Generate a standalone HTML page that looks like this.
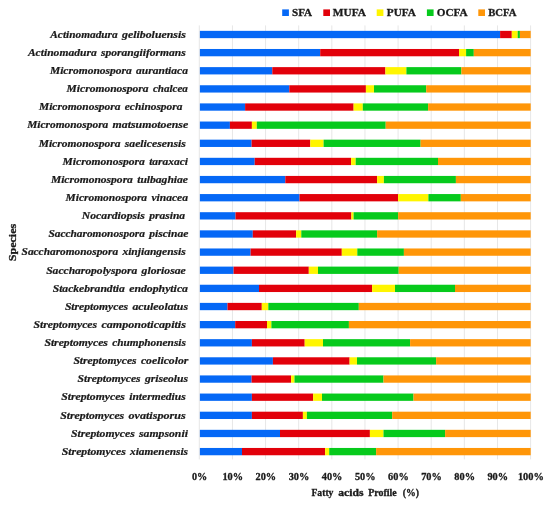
<!DOCTYPE html><html><head><meta charset="utf-8"><style>html,body{margin:0;padding:0;background:#fff}svg{display:block;will-change:transform}text{font-family:"Liberation Serif",serif;fill:#1a1a1a;stroke:#1a1a1a;stroke-width:0.3px}</style></head><body>
<svg width="550" height="505" viewBox="0 0 550 505">
<rect width="550" height="505" fill="#fff"/>
<rect x="198.80" y="25.4" width="1" height="434" fill="#e7e7e7"/>
<rect x="231.93" y="25.4" width="1" height="434" fill="#e7e7e7"/>
<rect x="265.06" y="25.4" width="1" height="434" fill="#e7e7e7"/>
<rect x="298.19" y="25.4" width="1" height="434" fill="#e7e7e7"/>
<rect x="331.32" y="25.4" width="1" height="434" fill="#e7e7e7"/>
<rect x="364.45" y="25.4" width="1" height="434" fill="#e7e7e7"/>
<rect x="397.58" y="25.4" width="1" height="434" fill="#e7e7e7"/>
<rect x="430.71" y="25.4" width="1" height="434" fill="#e7e7e7"/>
<rect x="463.84" y="25.4" width="1" height="434" fill="#e7e7e7"/>
<rect x="496.97" y="25.4" width="1" height="434" fill="#e7e7e7"/>
<rect x="530.10" y="25.4" width="1" height="434" fill="#e7e7e7"/>
<rect x="199.90" y="30.85" width="300.20" height="7.3" fill="#0568f6"/>
<rect x="500.10" y="30.85" width="11.70" height="7.3" fill="#e2000a"/>
<rect x="511.80" y="30.85" width="5.90" height="7.3" fill="#fff500"/>
<rect x="517.70" y="30.85" width="2.20" height="7.3" fill="#06ca1c"/>
<rect x="519.90" y="30.85" width="10.80" height="7.3" fill="#ff9608"/>
<rect x="199.90" y="48.98" width="120.30" height="7.3" fill="#0568f6"/>
<rect x="320.20" y="48.98" width="138.80" height="7.3" fill="#e2000a"/>
<rect x="459.00" y="48.98" width="7.10" height="7.3" fill="#fff500"/>
<rect x="466.10" y="48.98" width="7.70" height="7.3" fill="#06ca1c"/>
<rect x="473.80" y="48.98" width="56.90" height="7.3" fill="#ff9608"/>
<rect x="199.90" y="67.12" width="72.40" height="7.3" fill="#0568f6"/>
<rect x="272.30" y="67.12" width="113.10" height="7.3" fill="#e2000a"/>
<rect x="385.40" y="67.12" width="21.00" height="7.3" fill="#fff500"/>
<rect x="406.40" y="67.12" width="55.00" height="7.3" fill="#06ca1c"/>
<rect x="461.40" y="67.12" width="69.30" height="7.3" fill="#ff9608"/>
<rect x="199.90" y="85.25" width="89.40" height="7.3" fill="#0568f6"/>
<rect x="289.30" y="85.25" width="76.60" height="7.3" fill="#e2000a"/>
<rect x="365.90" y="85.25" width="8.10" height="7.3" fill="#fff500"/>
<rect x="374.00" y="85.25" width="52.20" height="7.3" fill="#06ca1c"/>
<rect x="426.20" y="85.25" width="104.50" height="7.3" fill="#ff9608"/>
<rect x="199.90" y="103.39" width="45.20" height="7.3" fill="#0568f6"/>
<rect x="245.10" y="103.39" width="108.50" height="7.3" fill="#e2000a"/>
<rect x="353.60" y="103.39" width="9.20" height="7.3" fill="#fff500"/>
<rect x="362.80" y="103.39" width="65.30" height="7.3" fill="#06ca1c"/>
<rect x="428.10" y="103.39" width="102.60" height="7.3" fill="#ff9608"/>
<rect x="199.90" y="121.53" width="30.00" height="7.3" fill="#0568f6"/>
<rect x="229.90" y="121.53" width="22.00" height="7.3" fill="#e2000a"/>
<rect x="251.90" y="121.53" width="4.90" height="7.3" fill="#fff500"/>
<rect x="256.80" y="121.53" width="128.90" height="7.3" fill="#06ca1c"/>
<rect x="385.70" y="121.53" width="145.00" height="7.3" fill="#ff9608"/>
<rect x="199.90" y="139.66" width="51.70" height="7.3" fill="#0568f6"/>
<rect x="251.60" y="139.66" width="58.70" height="7.3" fill="#e2000a"/>
<rect x="310.30" y="139.66" width="13.30" height="7.3" fill="#fff500"/>
<rect x="323.60" y="139.66" width="97.00" height="7.3" fill="#06ca1c"/>
<rect x="420.60" y="139.66" width="110.10" height="7.3" fill="#ff9608"/>
<rect x="199.90" y="157.80" width="54.80" height="7.3" fill="#0568f6"/>
<rect x="254.70" y="157.80" width="96.40" height="7.3" fill="#e2000a"/>
<rect x="351.10" y="157.80" width="4.60" height="7.3" fill="#fff500"/>
<rect x="355.70" y="157.80" width="82.30" height="7.3" fill="#06ca1c"/>
<rect x="438.00" y="157.80" width="92.70" height="7.3" fill="#ff9608"/>
<rect x="199.90" y="175.93" width="85.40" height="7.3" fill="#0568f6"/>
<rect x="285.30" y="175.93" width="91.80" height="7.3" fill="#e2000a"/>
<rect x="377.10" y="175.93" width="6.80" height="7.3" fill="#fff500"/>
<rect x="383.90" y="175.93" width="72.00" height="7.3" fill="#06ca1c"/>
<rect x="455.90" y="175.93" width="74.80" height="7.3" fill="#ff9608"/>
<rect x="199.90" y="194.06" width="99.60" height="7.3" fill="#0568f6"/>
<rect x="299.50" y="194.06" width="98.60" height="7.3" fill="#e2000a"/>
<rect x="398.10" y="194.06" width="30.30" height="7.3" fill="#fff500"/>
<rect x="428.40" y="194.06" width="32.40" height="7.3" fill="#06ca1c"/>
<rect x="460.80" y="194.06" width="69.90" height="7.3" fill="#ff9608"/>
<rect x="199.90" y="212.20" width="35.60" height="7.3" fill="#0568f6"/>
<rect x="235.50" y="212.20" width="115.90" height="7.3" fill="#e2000a"/>
<rect x="351.40" y="212.20" width="2.20" height="7.3" fill="#fff500"/>
<rect x="353.60" y="212.20" width="44.50" height="7.3" fill="#06ca1c"/>
<rect x="398.10" y="212.20" width="132.60" height="7.3" fill="#ff9608"/>
<rect x="199.90" y="230.34" width="52.90" height="7.3" fill="#0568f6"/>
<rect x="252.80" y="230.34" width="43.30" height="7.3" fill="#e2000a"/>
<rect x="296.10" y="230.34" width="5.20" height="7.3" fill="#fff500"/>
<rect x="301.30" y="230.34" width="75.80" height="7.3" fill="#06ca1c"/>
<rect x="377.10" y="230.34" width="153.60" height="7.3" fill="#ff9608"/>
<rect x="199.90" y="248.47" width="50.70" height="7.3" fill="#0568f6"/>
<rect x="250.60" y="248.47" width="91.20" height="7.3" fill="#e2000a"/>
<rect x="341.80" y="248.47" width="15.50" height="7.3" fill="#fff500"/>
<rect x="357.30" y="248.47" width="46.60" height="7.3" fill="#06ca1c"/>
<rect x="403.90" y="248.47" width="126.80" height="7.3" fill="#ff9608"/>
<rect x="199.90" y="266.61" width="33.70" height="7.3" fill="#0568f6"/>
<rect x="233.60" y="266.61" width="75.20" height="7.3" fill="#e2000a"/>
<rect x="308.80" y="266.61" width="9.20" height="7.3" fill="#fff500"/>
<rect x="318.00" y="266.61" width="80.70" height="7.3" fill="#06ca1c"/>
<rect x="398.70" y="266.61" width="132.00" height="7.3" fill="#ff9608"/>
<rect x="199.90" y="284.74" width="59.10" height="7.3" fill="#0568f6"/>
<rect x="259.00" y="284.74" width="113.10" height="7.3" fill="#e2000a"/>
<rect x="372.10" y="284.74" width="22.90" height="7.3" fill="#fff500"/>
<rect x="395.00" y="284.74" width="60.00" height="7.3" fill="#06ca1c"/>
<rect x="455.00" y="284.74" width="75.70" height="7.3" fill="#ff9608"/>
<rect x="199.90" y="302.88" width="27.60" height="7.3" fill="#0568f6"/>
<rect x="227.50" y="302.88" width="34.30" height="7.3" fill="#e2000a"/>
<rect x="261.80" y="302.88" width="6.50" height="7.3" fill="#fff500"/>
<rect x="268.30" y="302.88" width="90.50" height="7.3" fill="#06ca1c"/>
<rect x="358.80" y="302.88" width="171.90" height="7.3" fill="#ff9608"/>
<rect x="199.90" y="321.01" width="35.30" height="7.3" fill="#0568f6"/>
<rect x="235.20" y="321.01" width="31.80" height="7.3" fill="#e2000a"/>
<rect x="267.00" y="321.01" width="4.40" height="7.3" fill="#fff500"/>
<rect x="271.40" y="321.01" width="77.50" height="7.3" fill="#06ca1c"/>
<rect x="348.90" y="321.01" width="181.80" height="7.3" fill="#ff9608"/>
<rect x="199.90" y="339.15" width="52.00" height="7.3" fill="#0568f6"/>
<rect x="251.90" y="339.15" width="52.80" height="7.3" fill="#e2000a"/>
<rect x="304.70" y="339.15" width="18.30" height="7.3" fill="#fff500"/>
<rect x="323.00" y="339.15" width="87.10" height="7.3" fill="#06ca1c"/>
<rect x="410.10" y="339.15" width="120.60" height="7.3" fill="#ff9608"/>
<rect x="199.90" y="357.28" width="73.00" height="7.3" fill="#0568f6"/>
<rect x="272.90" y="357.28" width="76.70" height="7.3" fill="#e2000a"/>
<rect x="349.60" y="357.28" width="7.40" height="7.3" fill="#fff500"/>
<rect x="357.00" y="357.28" width="79.10" height="7.3" fill="#06ca1c"/>
<rect x="436.10" y="357.28" width="94.60" height="7.3" fill="#ff9608"/>
<rect x="199.90" y="375.42" width="51.70" height="7.3" fill="#0568f6"/>
<rect x="251.60" y="375.42" width="39.50" height="7.3" fill="#e2000a"/>
<rect x="291.10" y="375.42" width="3.40" height="7.3" fill="#fff500"/>
<rect x="294.50" y="375.42" width="89.00" height="7.3" fill="#06ca1c"/>
<rect x="383.50" y="375.42" width="147.20" height="7.3" fill="#ff9608"/>
<rect x="199.90" y="393.55" width="52.00" height="7.3" fill="#0568f6"/>
<rect x="251.90" y="393.55" width="61.20" height="7.3" fill="#e2000a"/>
<rect x="313.10" y="393.55" width="8.90" height="7.3" fill="#fff500"/>
<rect x="322.00" y="393.55" width="91.50" height="7.3" fill="#06ca1c"/>
<rect x="413.50" y="393.55" width="117.20" height="7.3" fill="#ff9608"/>
<rect x="199.90" y="411.69" width="52.00" height="7.3" fill="#0568f6"/>
<rect x="251.90" y="411.69" width="51.00" height="7.3" fill="#e2000a"/>
<rect x="302.90" y="411.69" width="4.00" height="7.3" fill="#fff500"/>
<rect x="306.90" y="411.69" width="85.30" height="7.3" fill="#06ca1c"/>
<rect x="392.20" y="411.69" width="138.50" height="7.3" fill="#ff9608"/>
<rect x="199.90" y="429.82" width="80.10" height="7.3" fill="#0568f6"/>
<rect x="280.00" y="429.82" width="89.90" height="7.3" fill="#e2000a"/>
<rect x="369.90" y="429.82" width="13.60" height="7.3" fill="#fff500"/>
<rect x="383.50" y="429.82" width="61.60" height="7.3" fill="#06ca1c"/>
<rect x="445.10" y="429.82" width="85.60" height="7.3" fill="#ff9608"/>
<rect x="199.90" y="447.96" width="42.10" height="7.3" fill="#0568f6"/>
<rect x="242.00" y="447.96" width="83.10" height="7.3" fill="#e2000a"/>
<rect x="325.10" y="447.96" width="4.10" height="7.3" fill="#fff500"/>
<rect x="329.20" y="447.96" width="46.90" height="7.3" fill="#06ca1c"/>
<rect x="376.10" y="447.96" width="154.60" height="7.3" fill="#ff9608"/>
<text x="50.3" y="37.75" font-size="10.5" font-style="italic" font-weight="bold" style="stroke-width:0.22px" lengthAdjust="spacingAndGlyphs" textLength="67.4">Actinomadura</text>
<text x="122.0" y="37.75" font-size="10.5" font-style="italic" font-weight="bold" style="stroke-width:0.22px" lengthAdjust="spacingAndGlyphs" textLength="63.8">geliboluensis</text>
<text x="27.9" y="55.88" font-size="10.5" font-style="italic" font-weight="bold" style="stroke-width:0.22px" lengthAdjust="spacingAndGlyphs" textLength="68.8">Actinomadura</text>
<text x="101.0" y="55.88" font-size="10.5" font-style="italic" font-weight="bold" style="stroke-width:0.22px" lengthAdjust="spacingAndGlyphs" textLength="84.8">sporangiiformans</text>
<text x="49.9" y="74.02" font-size="10.5" font-style="italic" font-weight="bold" style="stroke-width:0.22px" lengthAdjust="spacingAndGlyphs" textLength="81.9">Micromonospora</text>
<text x="136.1" y="74.02" font-size="10.5" font-style="italic" font-weight="bold" style="stroke-width:0.22px" lengthAdjust="spacingAndGlyphs" textLength="51.8">aurantiaca</text>
<text x="66.6" y="92.16" font-size="10.5" font-style="italic" font-weight="bold" style="stroke-width:0.22px" lengthAdjust="spacingAndGlyphs" textLength="82.0">Micromonospora</text>
<text x="152.9" y="92.16" font-size="10.5" font-style="italic" font-weight="bold" style="stroke-width:0.22px" lengthAdjust="spacingAndGlyphs" textLength="35.0">chalcea</text>
<text x="39.0" y="110.29" font-size="10.5" font-style="italic" font-weight="bold" style="stroke-width:0.22px" lengthAdjust="spacingAndGlyphs" textLength="81.5">Micromonospora</text>
<text x="124.8" y="110.29" font-size="10.5" font-style="italic" font-weight="bold" style="stroke-width:0.22px" lengthAdjust="spacingAndGlyphs" textLength="57.6">echinospora</text>
<text x="27.2" y="128.43" font-size="10.5" font-style="italic" font-weight="bold" style="stroke-width:0.22px" lengthAdjust="spacingAndGlyphs" textLength="81.1">Micromonospora</text>
<text x="112.6" y="128.43" font-size="10.5" font-style="italic" font-weight="bold" style="stroke-width:0.22px" lengthAdjust="spacingAndGlyphs" textLength="75.6">matsumotoense</text>
<text x="38.7" y="146.56" font-size="10.5" font-style="italic" font-weight="bold" style="stroke-width:0.22px" lengthAdjust="spacingAndGlyphs" textLength="81.8">Micromonospora</text>
<text x="124.8" y="146.56" font-size="10.5" font-style="italic" font-weight="bold" style="stroke-width:0.22px" lengthAdjust="spacingAndGlyphs" textLength="61.0">saelicesensis</text>
<text x="62.5" y="164.70" font-size="10.5" font-style="italic" font-weight="bold" style="stroke-width:0.22px" lengthAdjust="spacingAndGlyphs" textLength="82.4">Micromonospora</text>
<text x="149.2" y="164.70" font-size="10.5" font-style="italic" font-weight="bold" style="stroke-width:0.22px" lengthAdjust="spacingAndGlyphs" textLength="38.8">taraxaci</text>
<text x="50.9" y="182.83" font-size="10.5" font-style="italic" font-weight="bold" style="stroke-width:0.22px" lengthAdjust="spacingAndGlyphs" textLength="82.0">Micromonospora</text>
<text x="137.2" y="182.83" font-size="10.5" font-style="italic" font-weight="bold" style="stroke-width:0.22px" lengthAdjust="spacingAndGlyphs" textLength="50.8">tulbaghiae</text>
<text x="65.5" y="200.97" font-size="10.5" font-style="italic" font-weight="bold" style="stroke-width:0.22px" lengthAdjust="spacingAndGlyphs" textLength="81.6">Micromonospora</text>
<text x="151.4" y="200.97" font-size="10.5" font-style="italic" font-weight="bold" style="stroke-width:0.22px" lengthAdjust="spacingAndGlyphs" textLength="36.6">vinacea</text>
<text x="81.8" y="219.10" font-size="10.5" font-style="italic" font-weight="bold" style="stroke-width:0.22px" lengthAdjust="spacingAndGlyphs" textLength="63.1">Nocardiopsis</text>
<text x="149.2" y="219.10" font-size="10.5" font-style="italic" font-weight="bold" style="stroke-width:0.22px" lengthAdjust="spacingAndGlyphs" textLength="35.9">prasina</text>
<text x="48.5" y="237.24" font-size="10.5" font-style="italic" font-weight="bold" style="stroke-width:0.22px" lengthAdjust="spacingAndGlyphs" textLength="96.4">Saccharomonospora</text>
<text x="149.2" y="237.24" font-size="10.5" font-style="italic" font-weight="bold" style="stroke-width:0.22px" lengthAdjust="spacingAndGlyphs" textLength="39.1">piscinae</text>
<text x="21.6" y="255.37" font-size="10.5" font-style="italic" font-weight="bold" style="stroke-width:0.22px" lengthAdjust="spacingAndGlyphs" textLength="96.5">Saccharomonospora</text>
<text x="122.4" y="255.37" font-size="10.5" font-style="italic" font-weight="bold" style="stroke-width:0.22px" lengthAdjust="spacingAndGlyphs" textLength="63.4">xinjiangensis</text>
<text x="46.2" y="273.50" font-size="10.5" font-style="italic" font-weight="bold" style="stroke-width:0.22px" lengthAdjust="spacingAndGlyphs" textLength="91.1">Saccharopolyspora</text>
<text x="141.6" y="273.50" font-size="10.5" font-style="italic" font-weight="bold" style="stroke-width:0.22px" lengthAdjust="spacingAndGlyphs" textLength="44.1">gloriosae</text>
<text x="52.7" y="291.64" font-size="10.5" font-style="italic" font-weight="bold" style="stroke-width:0.22px" lengthAdjust="spacingAndGlyphs" textLength="72.2">Stackebrandtia</text>
<text x="129.2" y="291.64" font-size="10.5" font-style="italic" font-weight="bold" style="stroke-width:0.22px" lengthAdjust="spacingAndGlyphs" textLength="58.8">endophytica</text>
<text x="64.9" y="309.78" font-size="10.5" font-style="italic" font-weight="bold" style="stroke-width:0.22px" lengthAdjust="spacingAndGlyphs" textLength="63.2">Streptomyces</text>
<text x="132.4" y="309.78" font-size="10.5" font-style="italic" font-weight="bold" style="stroke-width:0.22px" lengthAdjust="spacingAndGlyphs" textLength="55.6">aculeolatus</text>
<text x="33.5" y="327.91" font-size="10.5" font-style="italic" font-weight="bold" style="stroke-width:0.22px" lengthAdjust="spacingAndGlyphs" textLength="63.6">Streptomyces</text>
<text x="101.4" y="327.91" font-size="10.5" font-style="italic" font-weight="bold" style="stroke-width:0.22px" lengthAdjust="spacingAndGlyphs" textLength="84.5">camponoticapitis</text>
<text x="44.4" y="346.05" font-size="10.5" font-style="italic" font-weight="bold" style="stroke-width:0.22px" lengthAdjust="spacingAndGlyphs" textLength="63.5">Streptomyces</text>
<text x="112.2" y="346.05" font-size="10.5" font-style="italic" font-weight="bold" style="stroke-width:0.22px" lengthAdjust="spacingAndGlyphs" textLength="73.7">chumphonensis</text>
<text x="73.4" y="364.18" font-size="10.5" font-style="italic" font-weight="bold" style="stroke-width:0.22px" lengthAdjust="spacingAndGlyphs" textLength="63.2">Streptomyces</text>
<text x="140.9" y="364.18" font-size="10.5" font-style="italic" font-weight="bold" style="stroke-width:0.22px" lengthAdjust="spacingAndGlyphs" textLength="47.5">coelicolor</text>
<text x="77.6" y="382.32" font-size="10.5" font-style="italic" font-weight="bold" style="stroke-width:0.22px" lengthAdjust="spacingAndGlyphs" textLength="63.0">Streptomyces</text>
<text x="144.9" y="382.32" font-size="10.5" font-style="italic" font-weight="bold" style="stroke-width:0.22px" lengthAdjust="spacingAndGlyphs" textLength="43.1">griseolus</text>
<text x="61.2" y="400.45" font-size="10.5" font-style="italic" font-weight="bold" style="stroke-width:0.22px" lengthAdjust="spacingAndGlyphs" textLength="63.7">Streptomyces</text>
<text x="129.2" y="400.45" font-size="10.5" font-style="italic" font-weight="bold" style="stroke-width:0.22px" lengthAdjust="spacingAndGlyphs" textLength="56.5">intermedius</text>
<text x="60.2" y="418.59" font-size="10.5" font-style="italic" font-weight="bold" style="stroke-width:0.22px" lengthAdjust="spacingAndGlyphs" textLength="64.0">Streptomyces</text>
<text x="128.5" y="418.59" font-size="10.5" font-style="italic" font-weight="bold" style="stroke-width:0.22px" lengthAdjust="spacingAndGlyphs" textLength="57.2">ovatisporus</text>
<text x="71.0" y="436.72" font-size="10.5" font-style="italic" font-weight="bold" style="stroke-width:0.22px" lengthAdjust="spacingAndGlyphs" textLength="63.7">Streptomyces</text>
<text x="139.0" y="436.72" font-size="10.5" font-style="italic" font-weight="bold" style="stroke-width:0.22px" lengthAdjust="spacingAndGlyphs" textLength="48.9">sampsonii</text>
<text x="61.8" y="454.86" font-size="10.5" font-style="italic" font-weight="bold" style="stroke-width:0.22px" lengthAdjust="spacingAndGlyphs" textLength="63.9">Streptomyces</text>
<text x="130.0" y="454.86" font-size="10.5" font-style="italic" font-weight="bold" style="stroke-width:0.22px" lengthAdjust="spacingAndGlyphs" textLength="58.0">xiamenensis</text>
<text x="192.00" y="479.7" font-size="10.2" font-weight="bold" textLength="15.2" lengthAdjust="spacingAndGlyphs">0%</text>
<text x="222.43" y="479.7" font-size="10.2" font-weight="bold" textLength="20.6" lengthAdjust="spacingAndGlyphs">10%</text>
<text x="255.56" y="479.7" font-size="10.2" font-weight="bold" textLength="20.6" lengthAdjust="spacingAndGlyphs">20%</text>
<text x="288.69" y="479.7" font-size="10.2" font-weight="bold" textLength="20.6" lengthAdjust="spacingAndGlyphs">30%</text>
<text x="321.82" y="479.7" font-size="10.2" font-weight="bold" textLength="20.6" lengthAdjust="spacingAndGlyphs">40%</text>
<text x="354.95" y="479.7" font-size="10.2" font-weight="bold" textLength="20.6" lengthAdjust="spacingAndGlyphs">50%</text>
<text x="388.08" y="479.7" font-size="10.2" font-weight="bold" textLength="20.6" lengthAdjust="spacingAndGlyphs">60%</text>
<text x="421.21" y="479.7" font-size="10.2" font-weight="bold" textLength="20.6" lengthAdjust="spacingAndGlyphs">70%</text>
<text x="454.34" y="479.7" font-size="10.2" font-weight="bold" textLength="20.6" lengthAdjust="spacingAndGlyphs">80%</text>
<text x="487.47" y="479.7" font-size="10.2" font-weight="bold" textLength="20.6" lengthAdjust="spacingAndGlyphs">90%</text>
<text x="517.90" y="479.7" font-size="10.2" font-weight="bold" textLength="26.0" lengthAdjust="spacingAndGlyphs">100%</text>
<text x="311.5" y="496.3" font-size="10.1" font-weight="bold" textLength="21.9" lengthAdjust="spacingAndGlyphs">Fatty</text>
<text x="338.2" y="496.3" font-size="10.1" font-weight="bold" textLength="25.3" lengthAdjust="spacingAndGlyphs">acids</text>
<text x="368.3" y="496.3" font-size="10.1" font-weight="bold" textLength="28.4" lengthAdjust="spacingAndGlyphs">Profile</text>
<text x="402.8" y="496.3" font-size="10.1" font-weight="bold" textLength="16.3" lengthAdjust="spacingAndGlyphs">(%)</text>
<text transform="translate(16.2,261.2) rotate(-90)" font-size="10.8" font-weight="bold" textLength="37.4" lengthAdjust="spacingAndGlyphs">Species</text>
<rect x="282.2" y="9.4" width="6.7" height="6.6" fill="#0568f6"/>
<text x="292.0" y="16.1" font-size="11.4" font-weight="bold" textLength="20.1" lengthAdjust="spacingAndGlyphs">SFA</text>
<rect x="323.3" y="9.4" width="6.7" height="6.6" fill="#e2000a"/>
<text x="332.8" y="16.1" font-size="11.4" font-weight="bold" textLength="33.2" lengthAdjust="spacingAndGlyphs">MUFA</text>
<rect x="376.7" y="9.4" width="6.7" height="6.6" fill="#fff500"/>
<text x="386.8" y="16.1" font-size="11.4" font-weight="bold" textLength="29.1" lengthAdjust="spacingAndGlyphs">PUFA</text>
<rect x="426.9" y="9.4" width="6.7" height="6.6" fill="#06ca1c"/>
<text x="436.7" y="16.1" font-size="11.4" font-weight="bold" textLength="30.9" lengthAdjust="spacingAndGlyphs">OCFA</text>
<rect x="478.3" y="9.4" width="6.7" height="6.6" fill="#ff9608"/>
<text x="488.2" y="16.1" font-size="11.4" font-weight="bold" textLength="28.3" lengthAdjust="spacingAndGlyphs">BCFA</text>
</svg></body></html>
